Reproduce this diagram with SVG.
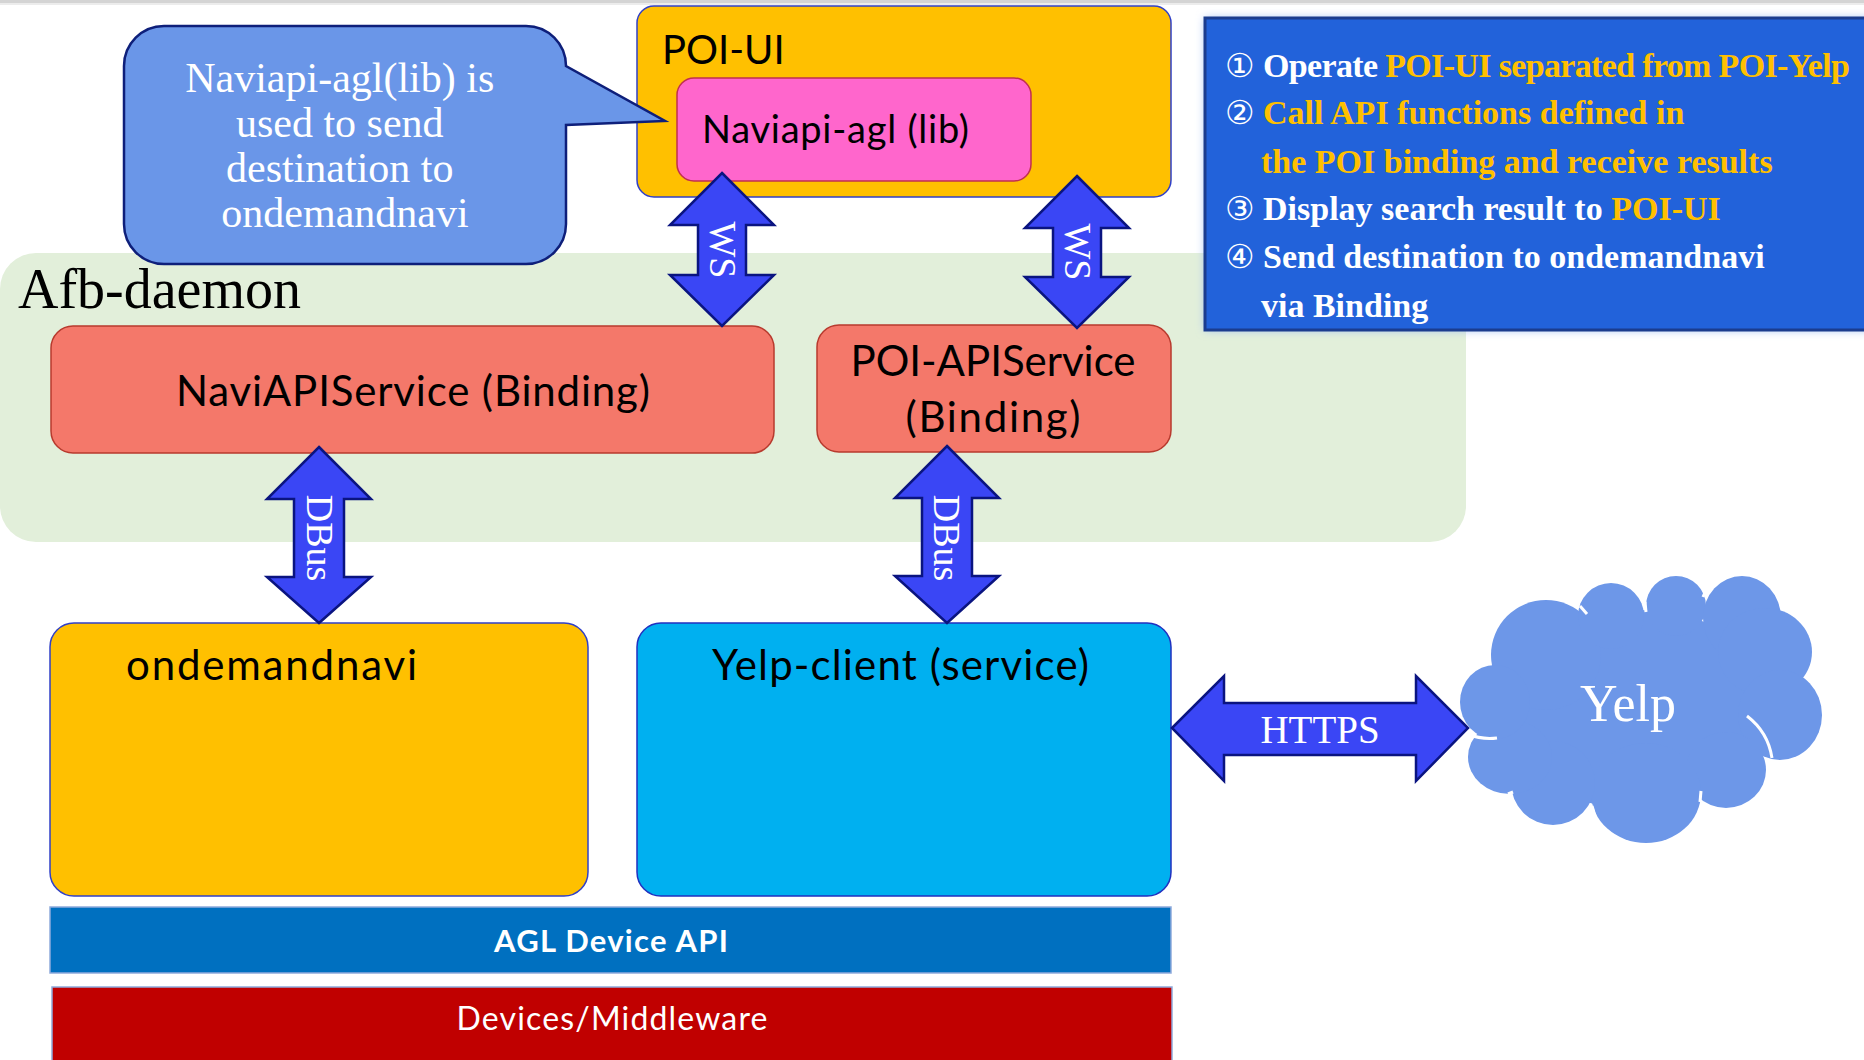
<svg xmlns="http://www.w3.org/2000/svg" width="1864" height="1060" viewBox="0 0 1864 1060">
<defs>
<style>
.sans{font-family:Lato,"Open Sans","Liberation Sans",sans-serif;fill:#000}
.serif{font-family:"Liberation Serif","DejaVu Serif",serif}
.wserif{font-family:"Liberation Serif","DejaVu Serif",serif;fill:#fff}
.arrow{fill:#3A46F5;stroke:#0A1480;stroke-width:2.5;stroke-linejoin:miter}
.info{font-family:"Liberation Serif","DejaVu Serif",serif;font-weight:bold;font-size:34px;fill:#fff}
.yl{fill:#FFC000}
.num{font-family:"DejaVu Sans","Noto Sans CJK JP",sans-serif;font-size:33px;fill:#fff}
</style>
<filter id="glow" x="-10%" y="-10%" width="120%" height="130%">
<feGaussianBlur stdDeviation="5"/>
</filter>
</defs>
<rect width="1864" height="1060" fill="#fff"/>
<rect x="0" y="0" width="1864" height="3" fill="#d4d4d4"/>
<rect x="0" y="3" width="1864" height="2" fill="#ececec"/>

<g id="afb-daemon">
<rect x="0" y="253" width="1466" height="289" rx="36" fill="#E2EFDA"/>
<text class="serif" x="18" y="308" font-size="56" fill="#000">Afb-daemon</text>
</g>

<g id="poi-ui">
<rect x="637" y="6" width="534" height="191" rx="17" fill="#FFC000" stroke="#3040C8" stroke-width="1.5"/>
<text class="sans" x="662" y="64" font-size="40">POI-UI</text>
</g>

<g id="callout">
<path d="M164,26 H526 A40,40 0 0 1 566,66 L665,121 L566,125 V224 A40,40 0 0 1 526,264 H164 A40,40 0 0 1 124,224 V66 A40,40 0 0 1 164,26 Z" fill="#6A96E8" stroke="#0E1F7A" stroke-width="2.5"/>
<text class="wserif" font-size="42" text-anchor="middle">
<tspan x="345" y="92">Naviapi-agl(lib) is</tspan>
<tspan x="345" y="137">used to send</tspan>
<tspan x="345" y="182">destination to</tspan>
<tspan x="345" y="227">ondemandnavi</tspan>
</text>
</g>

<g id="naviapi-agl">
<rect x="677" y="78" width="354" height="103" rx="17" fill="#FF66CC" stroke="#C0304F" stroke-width="1.5"/>
<text class="sans" x="702" y="143" font-size="38" textLength="267">Naviapi-agl (lib)</text>
</g>

<g id="info-box">
<rect x="1205" y="18" width="680" height="312" fill="#9DBDF5" filter="url(#glow)"/>
<rect x="1205" y="18" width="680" height="312" fill="#2262DA" stroke="#1B3C8E" stroke-width="3"/>
<text class="num" x="1225" y="77">①</text>
<text class="info" x="1263" y="77" textLength="587">Operate <tspan class="yl">POI-UI separated from POI-Yelp</tspan></text>
<text class="num" x="1225" y="124">②</text>
<text class="info" x="1263" y="124"><tspan class="yl">Call API functions defined in</tspan></text>
<text class="info" x="1261" y="173"><tspan class="yl">the POI binding and receive results</tspan></text>
<text class="num" x="1225" y="220">③</text>
<text class="info" x="1263" y="220">Display search result to <tspan class="yl">POI-UI</tspan></text>
<text class="num" x="1225" y="268">④</text>
<text class="info" x="1263" y="268">Send destination to ondemandnavi</text>
<text class="info" x="1261" y="317">via Binding</text>
</g>

<g id="naviapiservice">
<rect x="51" y="326" width="723" height="127" rx="22" fill="#F4786A" stroke="#B83A2E" stroke-width="1.5"/>
<text class="sans" x="413" y="406" font-size="42" text-anchor="middle" textLength="474">NaviAPIService (Binding)</text>
</g>

<g id="poi-apiservice">
<rect x="817" y="325" width="354" height="127" rx="22" fill="#F4786A" stroke="#B83A2E" stroke-width="1.5"/>
<text class="sans" x="993" y="376" font-size="42" text-anchor="middle" textLength="285">POI-APIService</text>
<text class="sans" x="993" y="432" font-size="42" text-anchor="middle" textLength="175">(Binding)</text>
</g>

<g id="ondemandnavi">
<rect x="50" y="623" width="538" height="273" rx="24" fill="#FFC000" stroke="#3040C8" stroke-width="1.5"/>
<text class="sans" x="126" y="680" font-size="42" textLength="291">ondemandnavi</text>
</g>

<g id="yelp-client">
<rect x="637" y="623" width="534" height="273" rx="24" fill="#00B0F0" stroke="#2030C0" stroke-width="1.5"/>
<text class="sans" x="712" y="680" font-size="42" textLength="377">Yelp-client (service)</text>
</g>

<g id="agl-device-api">
<rect x="50" y="907" width="1121" height="66" fill="#0070C0" stroke="#8FAADC" stroke-width="1.5"/>
<text class="sans" x="611" y="952" font-size="31" font-weight="bold" text-anchor="middle" textLength="234" style="fill:#fff">AGL Device API</text>
</g>

<g id="devices-middleware">
<rect x="52" y="987" width="1120" height="80" fill="#C00000" stroke="#8FAADC" stroke-width="1.5"/>
<text class="sans" x="612" y="1030" font-size="32" text-anchor="middle" textLength="311" style="fill:#fff">Devices/Middleware</text>
</g>

<g id="yelp">
<g fill="#6D97E8">
<ellipse cx="1640" cy="710" rx="135" ry="100"/>
<ellipse cx="1546" cy="655" rx="55" ry="55"/>
<ellipse cx="1611" cy="616" rx="33" ry="33"/>
<ellipse cx="1676" cy="606" rx="30" ry="30"/>
<ellipse cx="1742" cy="618" rx="39" ry="42"/>
<ellipse cx="1765" cy="652" rx="47" ry="44"/>
<ellipse cx="1780" cy="715" rx="42" ry="45"/>
<ellipse cx="1726" cy="770" rx="40" ry="38"/>
<ellipse cx="1646" cy="793" rx="55" ry="50"/>
<ellipse cx="1553" cy="783" rx="42" ry="42"/>
<ellipse cx="1510" cy="757" rx="42" ry="37"/>
<ellipse cx="1495" cy="702" rx="35" ry="37"/>
</g>
<g fill="none" stroke="#fff" stroke-width="3">
<path d="M1747,716 Q1768,732 1772,758"/>
<path d="M1468,734 Q1482,740 1497,738"/>
<path d="M1580,606 L1587,614"/>
<path d="M1645,602 L1646,612"/>
<path d="M1703,597 L1706,590"/>
<path d="M1513,792 L1508,794"/>
<path d="M1701,791 L1700,802"/>
<path d="M1592,806 L1595,816"/>
</g>
<text class="wserif" x="1628" y="721" font-size="52" text-anchor="middle">Yelp</text>
</g>

<g id="connectors">
<path class="arrow" d="M722,173 L774,225 L746,225 L746,275 L774,275 L722,326 L670,275 L698,275 L698,225 L670,225 Z"/>
<text class="wserif" font-size="38" text-anchor="middle" transform="translate(723,250) rotate(90)" x="0" y="13">WS</text>
<path class="arrow" d="M1077,176 L1129,228 L1101,228 L1101,277 L1129,277 L1077,328 L1025,277 L1053,277 L1053,228 L1025,228 Z"/>
<text class="wserif" font-size="38" text-anchor="middle" transform="translate(1078,252) rotate(90)" x="0" y="13">WS</text>
<path class="arrow" d="M319,447 L371,499 L344,499 L344,577 L371,577 L319,623 L267,577 L294,577 L294,499 L267,499 Z"/>
<text class="wserif" font-size="38" text-anchor="middle" transform="translate(320,538) rotate(90)" x="0" y="13">DBus</text>
<path class="arrow" d="M947,446 L999,498 L972,498 L972,576 L999,576 L947,623 L895,576 L922,576 L922,498 L895,498 Z"/>
<text class="wserif" font-size="38" text-anchor="middle" transform="translate(947,538) rotate(90)" x="0" y="13">DBus</text>
<path class="arrow" d="M1172,728 L1224,676 L1224,703 L1416,703 L1416,676 L1468,728 L1416,781 L1416,755 L1224,755 L1224,781 Z"/>
<text class="wserif" x="1320" y="743" font-size="39" text-anchor="middle">HTTPS</text>
</g>
</svg>
